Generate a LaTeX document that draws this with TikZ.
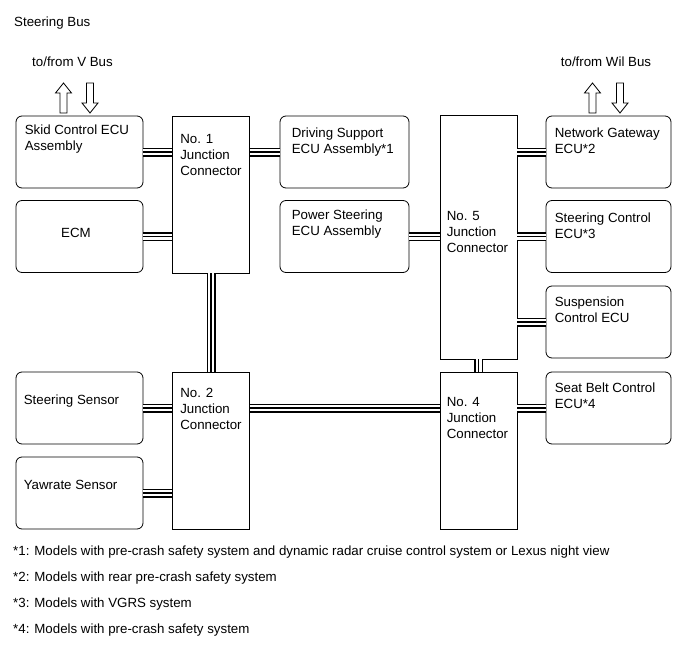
\documentclass[tikz,border=0pt]{standalone}
\usepackage{fontspec}
\setmainfont{Liberation Sans}
\usetikzlibrary{positioning}

\tikzset{
    ecu/.style={draw, line width=0.8pt, rounded corners=6pt, minimum width=127pt, minimum height=72pt, inner sep=0pt},
    jbox/.style={draw, line width=0.8pt, minimum width=77pt, minimum height=157pt, inner sep=0pt},
    txt/.style={inner sep=0pt, align=left, font=\fontsize{13.3}{16}\selectfont},
    bus/.style={line width=9pt, postaction={draw=white, line width=6pt}, postaction={draw=black, line width=1.4pt}},
    busarrow/.pic={\draw[line width=0.8pt, fill=white] (-3.5,0) -- (-3.5,-20) -- (-8,-20) -- (0,-30) -- (8,-20) -- (3.5,-20) -- (3.5,0) -- cycle;}
}

\begin{document}
\begin{tikzpicture}[x=1pt, y=-1pt]
    \useasboundingbox (0,0) rectangle (689,659);
    % 1. Headings
    \node[txt, anchor=base west] (title) at (14,26.5) {Steering Bus};
    \node[txt, anchor=base] (vbus) at (72.5,66.5) {to/from V Bus};
    \node[txt, anchor=base] (wbus) at (606,66.5) {to/from Wil Bus};
    \pic at (63.5,113) {busarrow};
    \pic[rotate=180] at (90,83) {busarrow};
    \pic at (592.5,113) {busarrow};
    \pic[rotate=180] at (620,83) {busarrow};

    % 2. ECUs and sensors
    \node[ecu] (skid) at (79.5,152) {};
    \node[ecu] (ecm) at (79.5,236.5) {};
    \node[ecu] (ssens) at (79.5,408) {};
    \node[ecu] (yaw) at (79.5,493) {};
    \node[ecu, minimum width=129pt] (drive) at (344.5,152) {};
    \node[ecu, minimum width=129pt] (pwr) at (344.5,236.5) {};
    \node[ecu, minimum width=125pt] (gate) at (608.5,152) {};
    \node[ecu, minimum width=125pt] (steer) at (608.5,236.5) {};
    \node[ecu, minimum width=125pt] (susp) at (608.5,322) {};
    \node[ecu, minimum width=125pt] (belt) at (608.5,408) {};

    % 3. Junction connectors
    \node[jbox] (jc1) at (211,194.5) {};
    \node[jbox] (jc2) at (211,450.5) {};
    \node[jbox, minimum height=244pt] (jc5) at (478.5,237) {};
    \node[jbox] (jc4) at (478.5,450.5) {};

    % 4. Texts in the boxes
    \node[txt, below right=9pt and 9pt of skid.north west] (skid-t) {Skid Control ECU\\Assembly};
    \node[txt] (ecm-t) at (76,233) {ECM};
    \node[txt, below right=23pt and 8pt of ssens.north west] (ssens-t) {Steering Sensor};
    \node[txt, below right=23pt and 8pt of yaw.north west] (yaw-t) {Yawrate Sensor};
    \node[txt, below right=12pt and 12pt of drive.north west] (drive-t) {Driving Support\\ECU Assembly*1};
    \node[txt, below right=10pt and 12pt of pwr.north west] (pwr-t) {Power Steering\\ECU Assembly};
    \node[txt, below right=12pt and 9pt of gate.north west] (gate-t) {Network Gateway\\ECU*2};
    \node[txt, below right=13pt and 9pt of steer.north west] (steer-t) {Steering Control\\ECU*3};
    \node[txt, below right=11pt and 9pt of susp.north west] (susp-t) {Suspension\\Control ECU};
    \node[txt, below right=11pt and 9pt of belt.north west] (belt-t) {Seat Belt Control\\ECU*4};
    \node[txt, below right=19pt and 8pt of jc1.north west] (jc1-t) {No. 1\\Junction\\Connector};
    \node[txt, below right=16pt and 8pt of jc2.north west] (jc2-t) {No. 2\\Junction\\Connector};
    \node[txt, below right=97pt and 7pt of jc5.north west] (jc5-t) {No. 5\\Junction\\Connector};
    \node[txt, below right=26pt and 7pt of jc4.north west] (jc4-t) {No. 4\\Junction\\Connector};

    % 5. Bus lines
    \draw[bus] (skid.east) -- (skid.east -| jc1.west);
    \draw[bus] (ecm.east) -- (ecm.east -| jc1.west);
    \draw[bus] (drive.west) -- (drive.west -| jc1.east);
    \draw[bus] (pwr.east) -- (pwr.east -| jc5.west);
    \draw[bus] (gate.west) -- (gate.west -| jc5.east);
    \draw[bus] (steer.west) -- (steer.west -| jc5.east);
    \draw[bus] (susp.west) -- (susp.west -| jc5.east);
    \draw[bus] (jc1.south) -- (jc2.north);
    \draw[bus] (jc5.south) -- (jc4.north);
    \draw[bus] (ssens.east) -- (ssens.east -| jc2.west);
    \draw[bus] (yaw.east) -- (yaw.east -| jc2.west);
    \draw[bus] (belt.west -| jc2.east) -- (belt.west -| jc4.west);
    \draw[bus] (belt.west) -- (belt.west -| jc4.east);

    % 6. Notes
    \node[txt, anchor=base west] (note1) at (13,555.5) {*1: Models with pre-crash safety system and dynamic radar cruise control system or Lexus night view};
    \node[txt, anchor=base west] (note2) at (13,581.5) {*2: Models with rear pre-crash safety system};
    \node[txt, anchor=base west] (note3) at (13,607.5) {*3: Models with VGRS system};
    \node[txt, anchor=base west] (note4) at (13,633.5) {*4: Models with pre-crash safety system};
\end{tikzpicture}
\end{document}
